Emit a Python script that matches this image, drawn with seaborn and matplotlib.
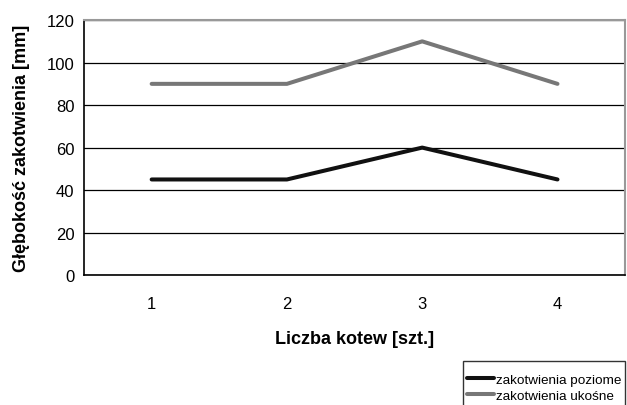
import matplotlib
matplotlib.use("Agg")
import matplotlib.pyplot as plt
import seaborn as sns
import pandas as pd

categories = ["1", "2", "3", "4"]
poziome = [45, 45, 60, 45]
ukosne = [90, 90, 110, 90]
series_names = ["zakotwienia poziome", "zakotwienia ukośne"]
y_ticks = [0, 20, 40, 60, 80, 100, 120]

sns.set_theme(style="white", rc={"text.color": "black", "axes.labelcolor": "black",
                                 "xtick.color": "black", "ytick.color": "black"})
plt.rcParams['font.family'] = ['Liberation Sans', 'DejaVu Sans']

df = pd.DataFrame({
    "x": list(range(len(categories))) * 2,
    "y": poziome + ukosne,
    "series": [series_names[0]] * 4 + [series_names[1]] * 4,
})

fig = plt.figure(figsize=(6.27, 4.06), dpi=100)
ax = fig.add_axes([0.134, 0.320, 0.863, 0.628])

sns.lineplot(data=df, x="x", y="y", hue="series",
             palette={series_names[0]: "#111111", series_names[1]: "#777777"},
             linewidth=2.9, ax=ax, legend=False)

ax.set_xlim(-0.5, 3.5)
ax.set_ylim(0, 120)
ax.set_yticks(y_ticks)
ax.set_xticks([-0.5, 0.5, 1.5, 2.5, 3.5])
ax.set_xticklabels([])
ax.set_xticks(range(len(categories)), minor=True)
ax.set_xticklabels(categories, minor=True)
ax.tick_params(axis="x", which="major", direction="out", length=4, width=1, color="black")
ax.tick_params(axis="x", which="minor", length=0, labelsize=12, pad=15)
ax.tick_params(axis="y", direction="out", length=4, width=1, color="black", labelsize=12, pad=3)
ax.yaxis.grid(True, color="black", linewidth=0.9)
ax.set_axisbelow(True)

for s in ["left", "bottom"]:
    ax.spines[s].set_color("black")
    ax.spines[s].set_linewidth(1.2)
for s in ["top", "right"]:
    ax.spines[s].set_color("#999999")
    ax.spines[s].set_linewidth(1.5)

ax.set_xlabel("Liczba kotew [szt.]", fontsize=13, fontweight="bold", labelpad=14)
ax.set_ylabel("Głębokość zakotwienia [mm]", fontsize=13, fontweight="bold", labelpad=12)

from matplotlib.lines import Line2D
handles = [Line2D([], [], color="#111111", linewidth=2.9),
           Line2D([], [], color="#777777", linewidth=2.9)]
leg = fig.legend(handles, series_names, loc="upper left",
                 bbox_to_anchor=(463 / 627, 1 - 362 / 406), fontsize=9.7, frameon=True,
                 fancybox=False, edgecolor="black", handlelength=2.0,
                 handletextpad=0.15, borderpad=0.3, labelspacing=0.3,
                 borderaxespad=0, title=" ", title_fontsize=3)
leg.get_frame().set_linewidth(1)

fig.savefig("out.png", dpi=100)
